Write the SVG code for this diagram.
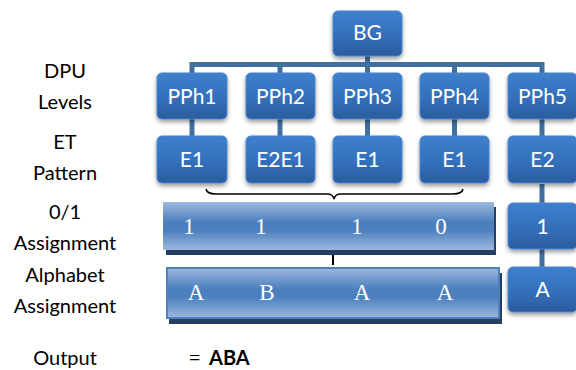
<svg xmlns="http://www.w3.org/2000/svg" width="576" height="370" viewBox="0 0 576 370">
<defs>
<linearGradient id="boxGrad" x1="0" y1="0" x2="0" y2="1">
<stop offset="0" stop-color="#3e80cd"/>
<stop offset="0.5" stop-color="#3571bc"/>
<stop offset="1" stop-color="#2b5c9f"/>
</linearGradient>
<linearGradient id="barGrad" x1="0" y1="0" x2="0" y2="1">
<stop offset="0" stop-color="#9db9de"/>
<stop offset="0.42" stop-color="#4c7fbe"/>
<stop offset="0.58" stop-color="#4c7fbe"/>
<stop offset="1" stop-color="#9db9de"/>
</linearGradient>
<filter id="sh" x="-20%" y="-20%" width="140%" height="150%">
<feDropShadow dx="0" dy="2.5" stdDeviation="2" flood-color="#000" flood-opacity="0.4"/>
</filter>
<style>
.box{fill:url(#boxGrad);stroke:#4a86cf;stroke-width:1;filter:url(#sh)}
.bt{font-family:Lato,"Liberation Sans",sans-serif;font-size:21px;fill:#fff;text-anchor:middle}
.lbl{font-family:Lato,"Liberation Sans",sans-serif;font-size:20px;fill:#000;text-anchor:middle}
.num{font-family:"Liberation Serif",serif;font-size:23px;fill:#fff;text-anchor:middle}
.conn{stroke:#41709f;stroke-width:5;fill:none}
.bar{fill:url(#barGrad)}
.barsh{fill:#243f60}
</style>
</defs>
<rect width="576" height="370" fill="#fff"/>

<g id="labels">
<text class="lbl" x="65" y="78">DPU</text>
<text class="lbl" x="65" y="109">Levels</text>
<text class="lbl" x="65" y="149">ET</text>
<text class="lbl" x="65" y="180">Pattern</text>
<text class="lbl" x="65" y="219">0/1</text>
<text class="lbl" x="65" y="250">Assignment</text>
<text class="lbl" x="65" y="282">Alphabet</text>
<text class="lbl" x="65" y="313">Assignment</text>
<text class="lbl" x="65" y="365">Output</text>
</g>

<g id="connectors">
<line class="conn" x1="367.5" y1="55" x2="367.5" y2="65"/>
<line class="conn" x1="190" y1="64.5" x2="544" y2="64.5"/>
<line class="conn" x1="192" y1="62" x2="192" y2="75"/>
<line class="conn" x1="280" y1="62" x2="280" y2="75"/>
<line class="conn" x1="367.5" y1="62" x2="367.5" y2="75"/>
<line class="conn" x1="454.5" y1="62" x2="454.5" y2="75"/>
<line class="conn" x1="542" y1="62" x2="542" y2="75"/>
<line class="conn" x1="192" y1="118" x2="192" y2="138" stroke-width="4"/>
<line class="conn" x1="280" y1="118" x2="280" y2="138" stroke-width="4"/>
<line class="conn" x1="367.5" y1="118" x2="367.5" y2="138" stroke-width="4"/>
<line class="conn" x1="454.5" y1="118" x2="454.5" y2="138" stroke-width="4"/>
<line class="conn" x1="542" y1="118" x2="542" y2="138" stroke-width="4"/>
<line class="conn" x1="542" y1="184" x2="542" y2="204" stroke-width="5"/>
<line class="conn" x1="542" y1="248" x2="542" y2="268" stroke-width="5"/>
<path id="brace" d="M206,189 Q207,194 216,194 L327,194 Q333,194 334,199 Q335,194 341,194 L453,194 Q462,194 463,189" fill="none" stroke="#000" stroke-width="1.5"/>
<line x1="333" y1="250" x2="333" y2="265" stroke="#000" stroke-width="2"/>
</g>

<g id="BG"><rect class="box" x="333" y="11" width="69" height="45" rx="5"/><text class="bt" x="367.5" y="40">BG</text></g>

<g id="PPh1"><rect class="box" x="157" y="73" width="70" height="46" rx="5"/><text class="bt" x="192" y="104">PPh1</text></g>
<g id="PPh2"><rect class="box" x="246" y="73" width="69" height="46" rx="5"/><text class="bt" x="280.5" y="104">PPh2</text></g>
<g id="PPh3"><rect class="box" x="333" y="73" width="69" height="46" rx="5"/><text class="bt" x="367.5" y="104">PPh3</text></g>
<g id="PPh4"><rect class="box" x="420" y="73" width="69" height="46" rx="5"/><text class="bt" x="454.5" y="104">PPh4</text></g>
<g id="PPh5"><rect class="box" x="508" y="73" width="69" height="46" rx="5"/><text class="bt" x="542.5" y="104">PPh5</text></g>

<g id="E1a"><rect class="box" x="157" y="136" width="70" height="47" rx="5"/><text class="bt" x="192" y="167">E1</text></g>
<g id="E2E1"><rect class="box" x="246" y="136" width="69" height="47" rx="5"/><text class="bt" x="280.5" y="167">E2E1</text></g>
<g id="E1b"><rect class="box" x="333" y="136" width="69" height="47" rx="5"/><text class="bt" x="367.5" y="167">E1</text></g>
<g id="E1c"><rect class="box" x="420" y="136" width="69" height="47" rx="5"/><text class="bt" x="454.5" y="167">E1</text></g>
<g id="E2"><rect class="box" x="508" y="136" width="69" height="47" rx="5"/><text class="bt" x="542.5" y="167">E2</text></g>

<g id="bar01">
<rect class="barsh" x="166" y="207" width="330" height="48"/>
<rect class="bar" x="163" y="202" width="331" height="48"/>
<text class="num" x="189" y="234">1</text>
<text class="num" x="261" y="234">1</text>
<text class="num" x="357" y="234">1</text>
<text class="num" x="441" y="234">0</text>
</g>

<g id="barABC">
<rect class="barsh" x="169" y="273" width="333" height="51"/>
<rect class="bar" x="167" y="268" width="332" height="50" stroke="#4f81bd" stroke-width="2"/>
<text class="num" x="196" y="300">A</text>
<text class="num" x="267" y="300">B</text>
<text class="num" x="362" y="300">A</text>
<text class="num" x="445" y="300">A</text>
</g>

<g id="R1"><rect class="box" x="508" y="203" width="69" height="46" rx="5"/><text class="bt" x="542.5" y="234">1</text></g>
<g id="RA"><rect class="box" x="508" y="267" width="69" height="45" rx="5"/><text class="bt" x="542.5" y="297">A</text></g>

<g id="output">
<text x="189" y="365" font-family="'Liberation Serif',serif" font-size="20" fill="#000">=</text>
<text x="209" y="365" font-family="Lato,'Liberation Sans',sans-serif" font-size="20" font-weight="bold" fill="#000">ABA</text>
</g>
</svg>
